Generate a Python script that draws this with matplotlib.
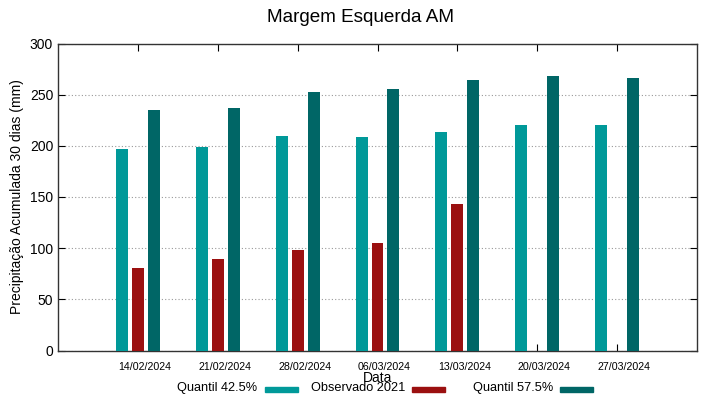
import matplotlib
matplotlib.use("Agg")
import matplotlib.pyplot as plt
from matplotlib.patches import Rectangle
import numpy as np

plt.rcParams['font.family'] = ['Liberation Sans', 'DejaVu Sans']

dates = ["14/02/2024", "21/02/2024", "28/02/2024", "06/03/2024",
         "13/03/2024", "20/03/2024", "27/03/2024"]
q425 = [197, 199, 210, 209, 214, 220, 220]
obs2021 = [81, 89, 98, 105, 143, np.nan, np.nan]
q575 = [235, 237, 253, 256, 264, 268, 266]
series_names = ["Quantil 42.5%", "Observado 2021", "Quantil 57.5%"]

c_q425 = "#009999"
c_obs = "#9b1010"
c_q575 = "#006666"
colors = [c_q425, c_obs, c_q575]

W, H = 719, 399
fig = plt.figure(figsize=(W/100, H/100), dpi=100)
ax = fig.add_axes([58/W, 1-350.5/H, (697-58)/W, (350.5-43.5)/H])

x = np.arange(1, len(dates)+1)
w = 0.15
ax.bar(x-0.2, q425, w, color=c_q425, zorder=3)
ax.bar(x, obs2021, w, color=c_obs, zorder=3)
ax.bar(x+0.2, q575, w, color=c_q575, zorder=3)

ax.set_xlim(0, 8)
ax.set_ylim(0, 300)
# tick marks at group centres, labels drawn slightly right of them (as in the reference)
ax.set_xticks(x)
ax.set_xticklabels([])
label_shift = 7 / ((697 - 58) / 8)
ax.set_xticks(x + label_shift, minor=True)
ax.set_xticklabels(dates, minor=True, fontsize=7.7)
ax.tick_params(axis='x', which='minor', length=0, pad=8.5)
ax.set_yticks(np.arange(0, 301, 50))
ax.tick_params(axis='y', labelsize=10, direction='in', right=True, length=5)
ax.tick_params(axis='x', which='major', direction='in', top=True, length=5)
ax.yaxis.grid(True, linestyle=(0, (1, 2)), color='#999999', linewidth=0.8, zorder=0)
for s in ax.spines.values():
    s.set_linewidth(1.0)
    s.set_color('#333333')

ax.set_ylabel("Precipitação Acumulada 30 dias (mm)", fontsize=10)
fig.text(377.5/W, 1-378.5/H, "Data", ha='center', va='center', fontsize=10)
fig.text(0.5 + 1/W, 1-22/H, "Margem Esquerda AM", ha='center', va='baseline', fontsize=13.6)

# gnuplot-style key: right-aligned text followed by colour sample
sw_ends = [297.5, 445, 593]
for name, col, xe in zip(series_names, colors, sw_ends):
    xs = xe - 33
    fig.patches.append(Rectangle((xs/W, 1-391.5/H), 33/W, 5/H,
                                 transform=fig.transFigure, color=col, figure=fig))
    fig.text((xs-7)/W, 1-388/H, name, ha='right', va='center', fontsize=9.2)

fig.savefig("out.png", dpi=100)
